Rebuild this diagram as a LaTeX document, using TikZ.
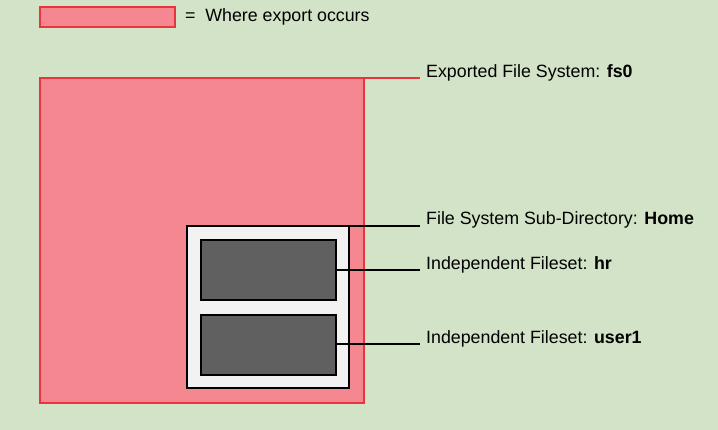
\documentclass[tikz,border=0pt]{standalone}
\usepackage{fontspec}
\setmainfont{Liberation Sans}
\definecolor{bg}{HTML}{D3E3C7}
\definecolor{pinkfill}{HTML}{F4878F}
\definecolor{redline}{HTML}{E8343E}
\definecolor{homefill}{HTML}{F2F2F2}
\definecolor{darkfill}{HTML}{606060}
\begin{document}
\begin{tikzpicture}[x=1pt,y=-1pt,
  exportbox/.style={draw=redline,fill=pinkfill,line width=1.3pt},
  homebox/.style={draw=black,fill=homefill,line width=2pt},
  filesetbox/.style={draw=black,fill=darkfill,line width=2pt},
  lbl/.style={anchor=west,inner sep=0pt,font=\fontsize{17.8}{21}\selectfont},
  blackline/.style={draw=black,line width=1.6pt},
  redlead/.style={draw=redline,line width=2pt}]
\fill[bg] (0,0) rectangle (718,430);
\useasboundingbox (0,0) rectangle (718,430);
% legend
\draw[exportbox] (40,7) rectangle (175,27);
\node[lbl] (legend) at (185,17) {=\hspace{0.55em}Where export occurs};
% big export rect
\draw[exportbox] (40,78) rectangle (364,403);
\coordinate (fscorner) at (345,78.5);
\coordinate (fsend) at (420,78.5);
\draw[redlead] (fscorner) -- (fsend);
\node[lbl] (fslbl) at (426,73) {Exported File System: \textbf{fs0}};
% home
\draw[homebox] (187,226) rectangle (349,388);
\node[lbl] (homelbl) at (426,220) {File System Sub-Directory: \textbf{Home}};
\coordinate (homea) at (345,226);
\coordinate (homeb) at (420,226);
\draw[blackline] (homea) -- (homeb);
% filesets
\draw[filesetbox] (201,240) rectangle (336,300);
\draw[filesetbox] (201,315) rectangle (336,375);
\coordinate (hra) at (336,270);
\coordinate (hrb) at (420,270);
\draw[blackline] (hra) -- (hrb);
\node[lbl] (hrlbl) at (426,265) {Independent Fileset: \textbf{hr}};
\coordinate (ua) at (336,344);
\coordinate (ub) at (420,344);
\draw[blackline] (ua) -- (ub);
\node[lbl] (ulbl) at (426,339) {Independent Fileset: \textbf{user1}};
\end{tikzpicture}
\end{document}
